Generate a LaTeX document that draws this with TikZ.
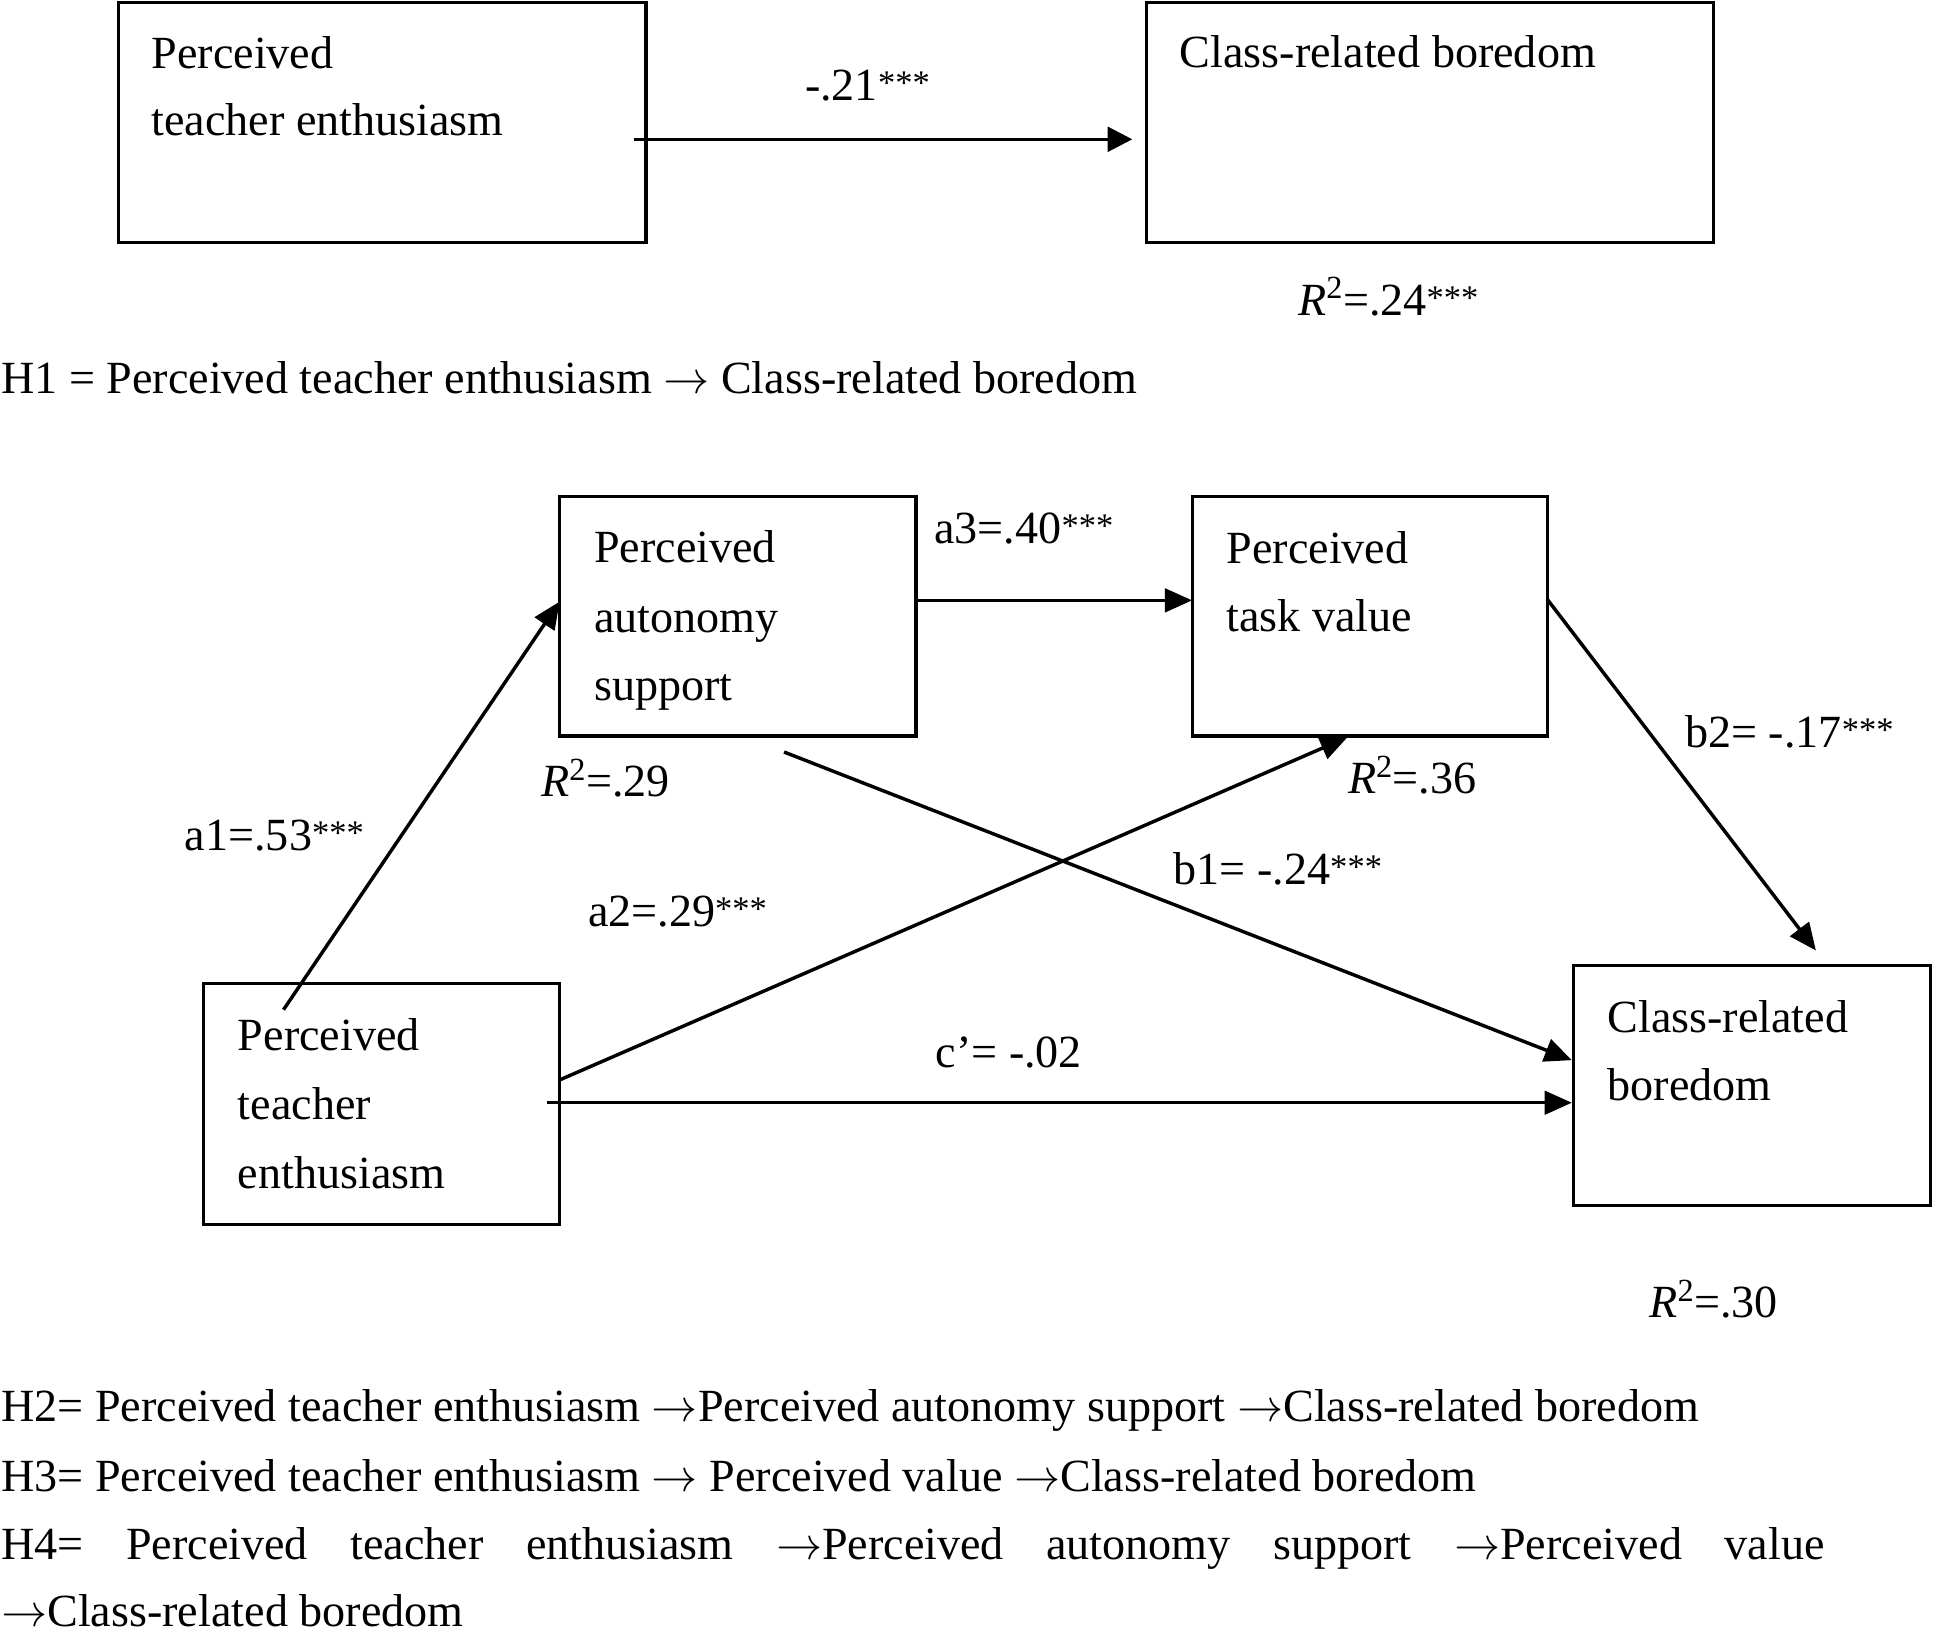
\documentclass[tikz,border=0pt]{standalone}
\usepackage{fontspec}
\usepackage{unicode-math}
\setmainfont{Liberation Serif}
\usetikzlibrary{arrows.meta}
\newcommand{\stars}{\raisebox{5pt}{\fontsize{28}{28}\selectfont ***}}
\newcommand{\rsq}{\textit{R}\textsuperscript{2}}
\newcommand{\ra}{\ensuremath{\rightarrow}}
\begin{document}
\begin{tikzpicture}[x=1pt,y=-1pt,
  box/.style={draw, line width=2.5pt, inner sep=0pt, outer sep=0pt},
  txt/.style={inner sep=0pt, outer sep=0pt, anchor=base west, font=\fontsize{37.4}{44}\selectfont},
  arr/.style={line width=2.8pt, -{Triangle[length=22pt,width=19pt]}}]
\useasboundingbox (0,0) rectangle (1568,1324);
% ---------- top model ----------
\node[box, minimum width=428pt, minimum height=195pt] (t1) at (310,99.5) {};
\node[box, minimum width=460pt, minimum height=195pt] (t2) at (1160,99.5) {};
\node[txt] (t1a) at (123,55.8) {Perceived};
\node[txt] (t1b) at (123,109.7) {teacher enthusiasm};
\node[txt] (t2a) at (957,54.7) {Class-related boredom};
\draw[line width=2.8pt, -{Triangle[length=20pt,width=20pt]}] ([xshift=-10pt,yshift=-13.5pt]t1.east) -- ([xshift=-11.5pt,yshift=-13.5pt]t2.west);
\node[txt] (l0) at (653,81.7) {-.21\stars};
\node[txt] (r0) at (1053,256) {\rsq=.24\stars};
\node[txt] (h1) at (1,319.4) {H1 = Perceived teacher enthusiasm \ra{} Class-related boredom};
% ---------- mediation model ----------
\node[box, minimum width=289pt, minimum height=194pt] (A) at (598.5,500) {};
\node[box, minimum width=288pt, minimum height=194pt] (T) at (1111,500) {};
\node[box, minimum width=289pt, minimum height=195pt] (P) at (309.5,895.5) {};
\node[box, minimum width=290pt, minimum height=195pt] (C) at (1421,880.5) {};
\node[txt] (A1) at (482,456.6) {Perceived};
\node[txt] (A2) at (482,512.8) {autonomy};
\node[txt] (A3) at (482,568) {support};
\node[txt] (T1) at (995,457) {Perceived};
\node[txt] (T2) at (995,512) {task value};
\node[txt] (P1) at (193,852) {Perceived};
\node[txt] (P2) at (193,908) {teacher};
\node[txt] (P3) at (193,964) {enthusiasm};
\node[txt] (C1) at (1304,837.4) {Class-related};
\node[txt] (C2) at (1304,892.5) {boredom};
% arrows
\draw[arr] ([xshift=65pt,yshift=-21pt]P.north west) -- ([yshift=12pt]A.west);
\draw[arr] ([yshift=13pt]A.east) -- ([yshift=13pt]T.west);
\draw[arr] ([yshift=19.5pt]P.east) -- ([xshift=-18pt,yshift=-1pt]T.south);
\draw[arr] ([xshift=37.5pt,yshift=-13pt]A.south) -- ([xshift=-1pt,yshift=20.5pt]C.west);
\draw[arr] ([yshift=14pt]T.east) -- ([xshift=52pt,yshift=12pt]C.north);
\draw[arr] ([xshift=-10pt,yshift=1pt]P.east) -- ([xshift=-1pt,yshift=-14pt]C.west);
% labels
\node[txt] (la1) at (150,689.7) {a1=.53\stars};
\node[txt] (la2) at (477,751.4) {a2=.29\stars};
\node[txt] (la3) at (758,441) {a3=.40\stars};
\node[txt] (lb1) at (952,717.5) {b1= -.24\stars};
\node[txt] (lb2) at (1367,606.7) {b2= -.17\stars};
\node[txt] (lc) at (759,866) {c’= -.02};
\node[txt] (rA) at (439,646.5) {\rsq=.29};
\node[txt] (rT) at (1093.5,644) {\rsq=.36};
\node[txt] (rC) at (1338,1069) {\rsq=.30};
% hypotheses
\node[txt] (h2) at (1,1153) {H2= Perceived teacher enthusiasm \ra{}Perceived autonomy support \ra{}Class-related boredom};
\node[txt] (h3) at (1,1210) {H3= Perceived teacher enthusiasm \ra{} Perceived value \ra{}Class-related boredom};
\node[txt] (h4) at (1,1265) {\makebox[1479pt][s]{H4= Perceived teacher enthusiasm \ra{}Perceived autonomy support \ra{}Perceived value}};
\node[txt] (h5) at (1,1319) {\ra{}Class-related boredom};
\end{tikzpicture}
\end{document}
